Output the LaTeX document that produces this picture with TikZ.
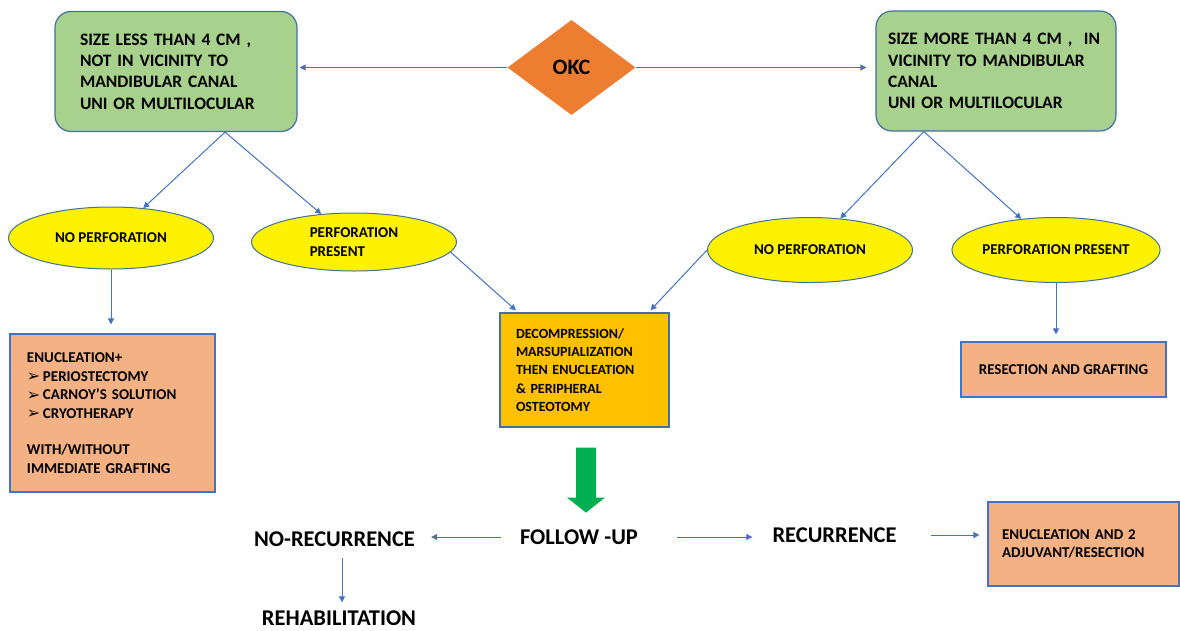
\documentclass[tikz,border=0pt]{standalone}
\usepackage{fontspec}
\setmainfont{Carlito}
\newfontfamily\dingfont{DejaVu Sans}
\usetikzlibrary{shapes.geometric,arrows.meta}
\definecolor{boxgreen}{HTML}{A9D18E}
\definecolor{okcorange}{HTML}{ED7D31}
\definecolor{salmon}{HTML}{F4B183}
\definecolor{gold}{HTML}{FFC000}
\definecolor{arrowgreen}{HTML}{00B050}
\definecolor{linkblue}{HTML}{4472C4}
\definecolor{edgeblue}{HTML}{41719C}
\newcommand{\arrowbullet}{\makebox[16pt][l]{\raisebox{-0.5pt}{\dingfont\fontsize{16}{16}\selectfont ➢}}}
\begin{document}
\begin{tikzpicture}[x=1pt,y=-1pt,
  every node/.style={font=\bfseries},
  conn/.style={draw=linkblue,line width=1pt,-{Triangle[length=6pt,width=6pt]}},
  greenbox/.style={draw=edgeblue,line width=1.2pt,fill=boxgreen,rounded corners=16pt,minimum height=120pt,align=left,font=\bfseries\fontsize{17.5}{21.3}\selectfont},
  oval/.style={ellipse,draw=edgeblue,line width=1pt,fill=yellow,minimum width=205pt,minimum height=62pt,inner sep=0pt,font=\bfseries\fontsize{15}{19}\selectfont},
  salmonbox/.style={draw=linkblue,line width=1.2pt,fill=salmon,align=left,font=\bfseries\fontsize{15}{18.5}\selectfont},
  goldbox/.style={draw=edgeblue,line width=1.2pt,fill=gold,align=left,font=\bfseries\fontsize{14}{18.3}\selectfont},
  bigtext/.style={inner sep=0pt,font=\bfseries\fontsize{22.5}{27}\selectfont}]
\path[fill=white] (0,0) rectangle (1180,630);
\node[diamond,fill=okcorange,minimum width=128pt,minimum height=95pt,inner sep=0pt,font=\bfseries\fontsize{22}{26}\selectfont] (okc) at (571.5,67.5) {OKC};
\node[greenbox,text width=192pt,inner xsep=25pt] (lsmall) at (176,71.5) {SIZE LESS THAN 4 CM ,\\NOT IN VICINITY TO\\MANDIBULAR CANAL\\UNI OR MULTILOCULAR};
\node[greenbox,text width=216pt,inner xsep=12pt] (rbig) at (996,71) {SIZE MORE THAN 4 CM ,~ IN\\VICINITY TO MANDIBULAR\\CANAL\\UNI OR MULTILOCULAR};
\node[oval] (lnp) at (111,238) {NO PERFORATION};
\node[oval,minimum height=58pt,align=left] (lpp) at (354,242) {PERFORATION\\PRESENT};
\node[oval,minimum height=65pt] (rnp) at (810,250) {NO PERFORATION};
\node[oval,minimum height=65pt] (rpp) at (1056,250) {PERFORATION PRESENT};
\node[salmonbox,text width=171pt,inner xsep=17pt,minimum height=158pt] (lenuc) at (112.5,413) {ENUCLEATION+\\\arrowbullet PERIOSTECTOMY\\\arrowbullet CARNOY’S SOLUTION\\\arrowbullet CRYOTHERAPY\\[18pt]WITH/WITHOUT\\IMMEDIATE GRAFTING};
\node[goldbox,text width=137pt,inner xsep=16pt,minimum height=114pt] (decomp) at (584.5,370) {DECOMPRESSION/\\MARSUPIALIZATION\\THEN ENUCLEATION\\\& PERIPHERAL\\OSTEOTOMY};
\node[salmonbox,align=center,minimum width=205pt,minimum height=55pt] (resec) at (1063.5,369.5) {RESECTION AND GRAFTING};
\node[bigtext] (fu) at (579,537) {FOLLOW -UP};
\node[bigtext] (norec) at (334.5,539) {NO-RECURRENCE};
\node[bigtext] (rehab) at (339,618) {REHABILITATION};
\node[bigtext] (rec) at (834.5,535) {RECURRENCE};
\node[salmonbox,text width=163pt,inner xsep=14pt,minimum height=84pt] (enuc2) at (1083.5,544) {ENUCLEATION AND 2\\ADJUVANT/RESECTION};
\draw[conn,shorten >=2pt] (okc.west) -- (okc.west -| lsmall.east);
\draw[conn,shorten >=9pt] (okc.east) -- (okc.east -| rbig.west);
\draw[conn] (lsmall.-51) -- (lnp);
\draw[conn] (lsmall.-51) -- (lpp);
\draw[conn] (rbig.-140) -- (rnp);
\draw[conn] (rbig.-140) -- (rpp);
\draw[conn,shorten >=9pt] (lnp.south) -- (lnp.south |- lenuc.north);
\draw[conn,shorten >=3pt] (lpp.-6) -- (decomp.139);
\draw[conn,shorten >=3pt] (rnp.west) -- (decomp.42);
\draw[conn,shorten >=7pt] (rpp.south) -- (rpp.south |- resec.north);
\fill[arrowgreen] ([xshift=1.5pt,yshift=-20pt]decomp.south) ++(-10,0) -- ++(20,0) -- ++(0,50) -- ++(9,0) -- ++(-19,15) -- ++(-19,-15) -- ++(9,0) -- cycle;
\draw[conn,shorten <=19pt,shorten >=16pt] (fu.west) -- (fu.west -| norec.east);
\draw[conn,shorten <=39pt,shorten >=20pt] (fu.east) -- (fu.east -| rec.west);
\draw[conn,shorten <=34pt,shorten >=8pt] (rec.east) -- (rec.east -| enuc2.west);
\draw[conn,shorten <=11pt,shorten >=8pt] ([xshift=7.5pt]norec.south) -- ([xshift=7.5pt]norec.south |- rehab.north);
\end{tikzpicture}
\end{document}
